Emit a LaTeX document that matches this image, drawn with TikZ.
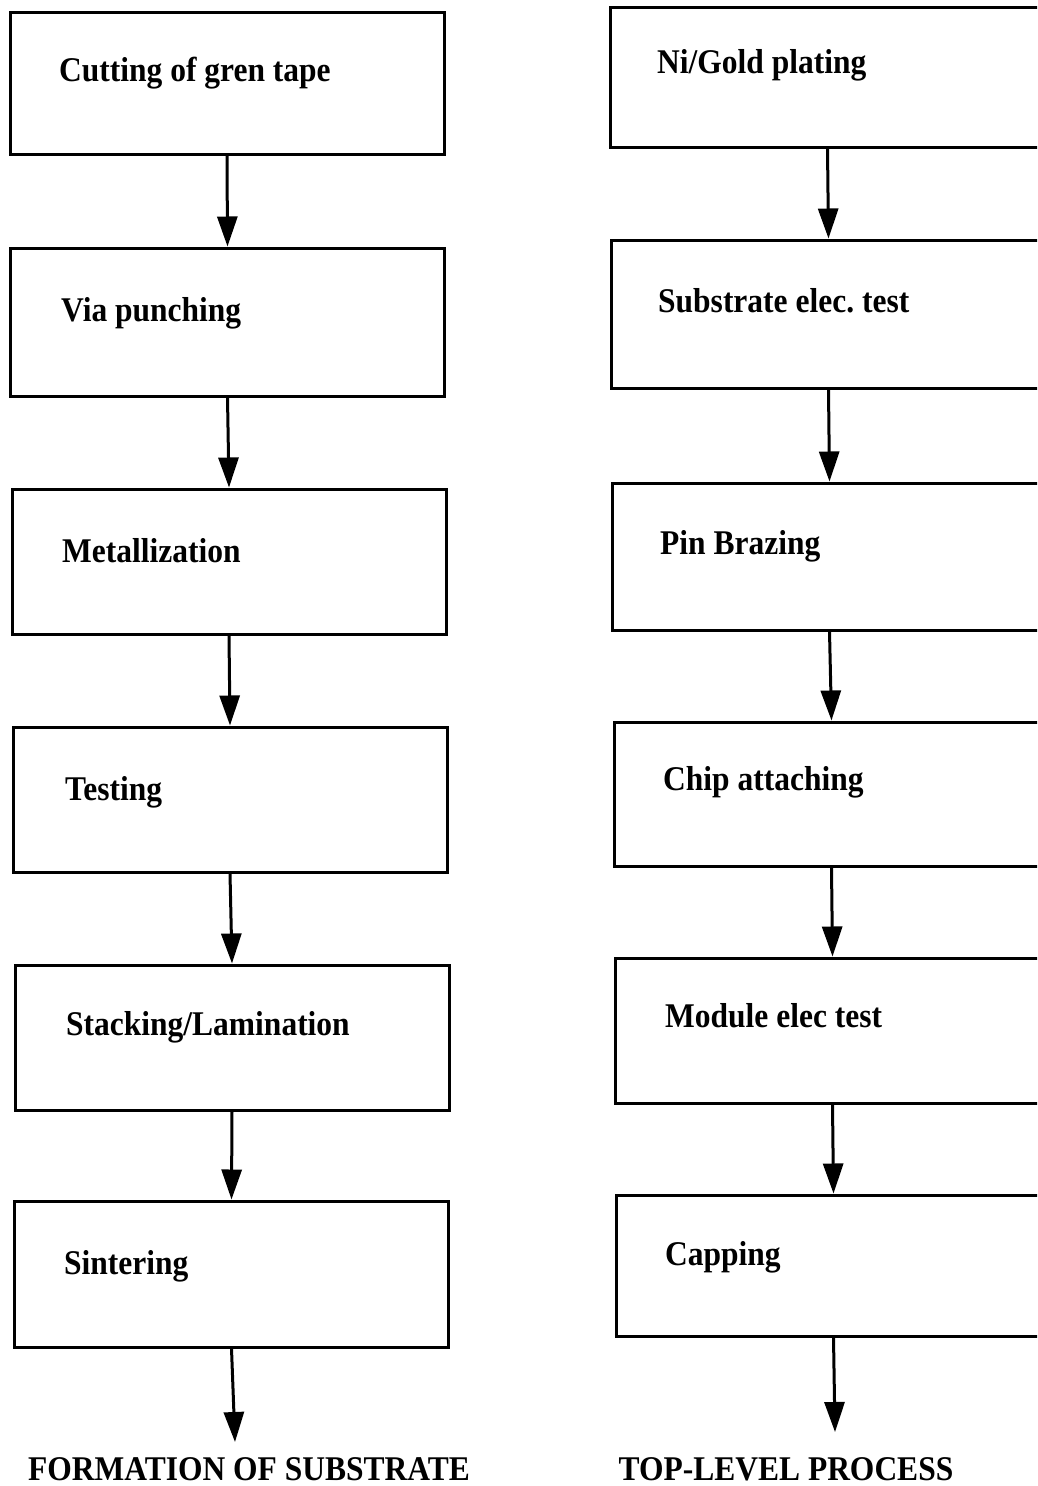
\documentclass[tikz,border=0pt]{standalone}
\usepackage{fontspec}
\setmainfont{Liberation Serif}
\usetikzlibrary{arrows.meta}
% slightly tall bold lettering
\newcommand{\tallbf}[1]{\scalebox{1}[1.1]{#1}}
\begin{document}
\begin{tikzpicture}[x=1pt,y=-1pt,
  stepbox/.style={draw=black, line width=3pt, rectangle, minimum width=434pt, inner sep=0pt},
  lbl/.style={anchor=base west, inner sep=0pt, font=\fontsize{31.5}{36}\selectfont\bfseries},
  flow/.style={draw=black, line width=3pt, -{Triangle[width=20pt,length=30pt]}},
  ttl/.style={anchor=base, inner sep=0pt, font=\fontsize{31.5}{36}\selectfont\bfseries}]
\useasboundingbox (0,0) rectangle (1037,1486);
\clip (0,0) rectangle (1037,1486);
\fill[white] (0,0) rectangle (1037,1486);

% left column: formation of substrate
\node[stepbox, minimum height=142pt] (l1) at (227,83) {};
\node[stepbox, minimum height=148pt] (l2) at (227.5,322) {};
\node[stepbox, minimum height=145pt] (l3) at (229,561.5) {};
\node[stepbox, minimum height=145pt] (l4) at (230,799.5) {};
\node[stepbox, minimum height=145pt] (l5) at (232,1037.5) {};
\node[stepbox, minimum height=146pt] (l6) at (231.5,1274) {};

\node[lbl] (t1) at (59,81) {\tallbf{Cutting of gren tape}};
\node[lbl] (t2) at (61,321) {\tallbf{Via punching}};
\node[lbl] (t3) at (62,562) {\tallbf{Metallization}};
\node[lbl] (t4) at (65,800) {\tallbf{Testing}};
\node[lbl] (t5) at (66,1035) {\tallbf{Stacking/Lamination}};
\node[lbl] (t6) at (64,1274) {\tallbf{Sintering}};

\coordinate (lend) at (235,1442);
\draw[flow] (l1.south) -- (l2.north);
\draw[flow] (l2.south) -- (l3.north);
\draw[flow] (l3.south) -- (l4.north);
\draw[flow] (l4.south) -- (l5.north);
\draw[flow] (l5.south) -- (l6.north);
\draw[flow] (l6.south) -- (lend);
\node[ttl] (lt) at (249,1480) {\tallbf{FORMATION OF SUBSTRATE}};

% right column: top-level process
\node[stepbox, minimum width=435pt, minimum height=140pt] (r1) at (827.5,77) {};
\node[stepbox, minimum width=435pt, minimum height=148pt] (r2) at (828.5,314) {};
\node[stepbox, minimum width=435pt, minimum height=147pt] (r3) at (829.5,556.5) {};
\node[stepbox, minimum width=435pt, minimum height=144pt] (r4) at (831.5,794) {};
\node[stepbox, minimum width=435pt, minimum height=145pt] (r5) at (832.5,1030.5) {};
\node[stepbox, minimum width=435pt, minimum height=141pt] (r6) at (833.5,1265.5) {};

\node[lbl] (s1) at (657,73) {\tallbf{Ni/Gold plating}};
\node[lbl] (s2) at (658,312) {\tallbf{Substrate elec.\ test}};
\node[lbl] (s3) at (660,554) {\tallbf{Pin Brazing}};
\node[lbl] (s4) at (663,790) {\tallbf{Chip attaching}};
\node[lbl] (s5) at (665,1027) {\tallbf{Module elec test}};
\node[lbl] (s6) at (665,1265) {\tallbf{Capping}};

\coordinate (rend) at (835,1432);
\draw[flow] (r1.south) -- (r2.north);
\draw[flow] (r2.south) -- (r3.north);
\draw[flow] (r3.south) -- (r4.north);
\draw[flow] (r4.south) -- (r5.north);
\draw[flow] (r5.south) -- (r6.north);
\draw[flow] (r6.south) -- (rend);
\node[ttl] (rt) at (786,1480) {\tallbf{TOP-LEVEL PROCESS}};
\end{tikzpicture}
\end{document}
